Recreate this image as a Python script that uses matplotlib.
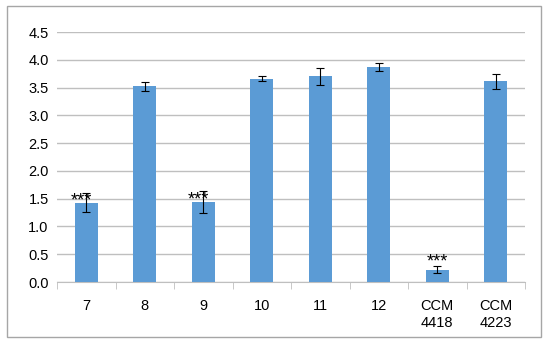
import matplotlib.pyplot as plt
from matplotlib.patches import Rectangle

labels = ['7', '8', '9', '10', '11', '12', 'CCM\n4418', 'CCM\n4223']
values = [1.43, 3.52, 1.44, 3.66, 3.70, 3.87, 0.22, 3.61]
errors = [0.17, 0.08, 0.19, 0.05, 0.16, 0.08, 0.065, 0.13]
stars = ['***', '', '***', '', '', '', '***', '']

plt.rcParams['font.family'] = ['Liberation Sans', 'DejaVu Sans']

fig = plt.figure(figsize=(5.5, 3.44), dpi=100)
W, H = 550, 344
fig.patches.append(Rectangle((7 / W, 1 - 337 / H), (541 - 7) / W, (337 - 6) / H,
                             transform=fig.transFigure, fill=False,
                             edgecolor='#a6a6a6', linewidth=1))
ax = fig.add_axes([57 / W, 1 - 282 / H, (525 - 57) / W, (282 - 32) / H])

x = list(range(len(labels)))
ax.bar(x, values, width=0.4, color='#5b9bd5', zorder=3)
ax.errorbar(x, values, yerr=errors, fmt='none', ecolor='black',
            elinewidth=0.8, capsize=3, capthick=0.8, zorder=4)

for i, s in enumerate(stars):
    if s:
        if values[i] > 1:
            ax.text(i - 0.08, values[i] - 0.12, s, ha='center', va='bottom',
                    fontsize=13, zorder=5)
        else:
            ax.text(i, values[i] + errors[i] - 0.08, s, ha='center', va='bottom',
                    fontsize=13, zorder=5)

ax.set_xlim(-0.5, len(labels) - 0.5)
ax.set_ylim(0, 4.5)
ax.set_yticks([i * 0.5 for i in range(10)])
ax.set_yticklabels(['%.1f' % (i * 0.5) for i in range(10)])
ax.yaxis.grid(True, color='#bfbfbf', linewidth=1, zorder=0)
ax.set_xticks(x)
ax.set_xticklabels(labels, linespacing=1.3)
ax.set_xticks([i - 0.5 for i in range(len(labels) + 1)], minor=True)
ax.tick_params(axis='x', which='major', length=0, pad=12, labelsize=10.5)
ax.tick_params(axis='x', which='minor', length=5, color='#bfbfbf', direction='out')
ax.tick_params(axis='y', length=0, pad=6, labelsize=10.5)
for s in ['top', 'right', 'left']:
    ax.spines[s].set_visible(False)
ax.spines['bottom'].set_color('#bfbfbf')
ax.set_facecolor('none')

fig.savefig('out.png', dpi=100)
